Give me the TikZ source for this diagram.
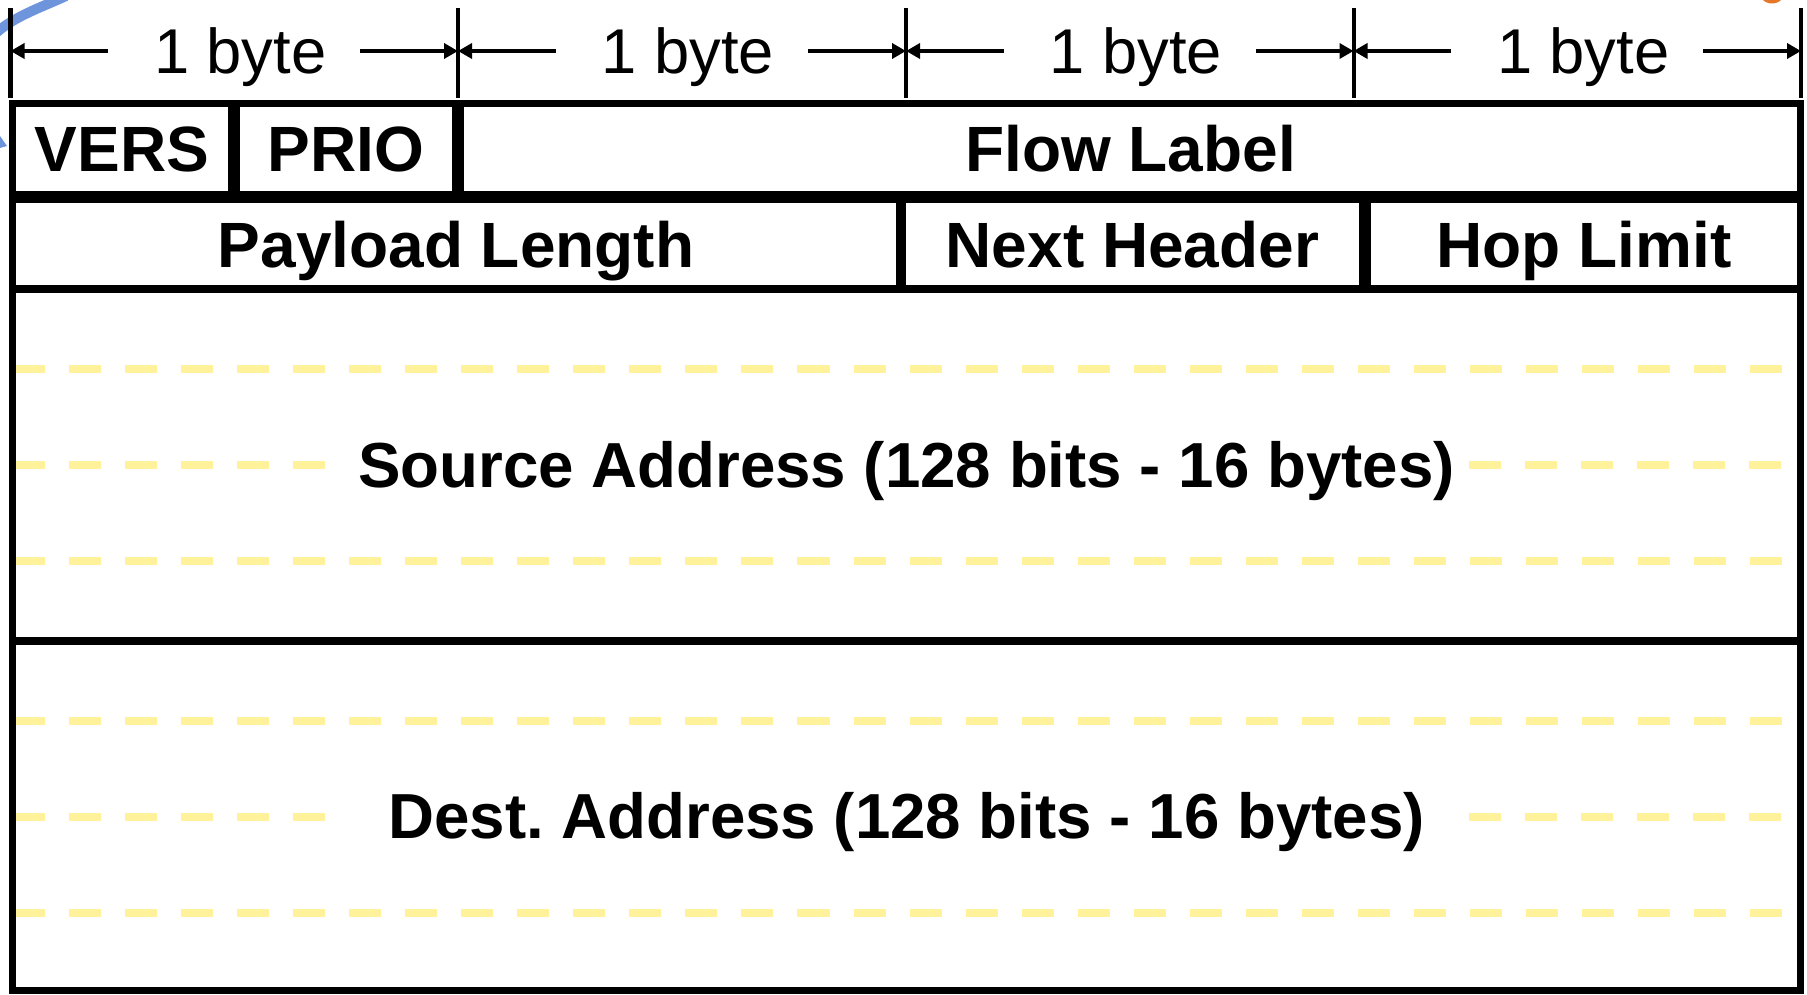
\documentclass[tikz,border=0pt]{standalone}
\usepackage{fontspec}
\setmainfont{Liberation Sans}
\usetikzlibrary{arrows.meta}
\definecolor{ruleyellow}{RGB}{255,242,155}
\definecolor{penblue}{RGB}{110,148,220}
\definecolor{penorange}{RGB}{230,118,40}
\frenchspacing
\begin{document}
\begin{tikzpicture}[x=0.01cm, y=-0.01cm,
  field/.style={draw, line width=0.07cm, rectangle, inner sep=0pt, outer sep=0pt,
    text height=13.03pt, text depth=0pt, font=\fontsize{18.2}{20}\selectfont\bfseries},
  bigfield/.style={field, text height=12.96pt, font=\fontsize{18.1}{20}\selectfont\bfseries},
  bytetick/.style={line width=0.04cm},
  dimarrow/.style={line width=0.045cm, -{Triangle[length=0.14cm, width=0.15cm]}},
  bytelbl/.style={inner sep=0pt, outer sep=0pt, minimum width=2.52cm,
    text height=12.9pt, text depth=0pt, font=\fontsize{18}{20}\selectfont},
  guide/.style={line width=0.08cm, ruleyellow, line cap=butt, dash pattern=on 0.32cm off 0.24cm}
]
\useasboundingbox (0,0) rectangle (1807,994);

% pen strokes at the edges
\draw[penblue, line width=0.1cm] (66,-4) .. controls (40,8) and (15,16) .. (-4,33);
\fill[penblue] (0,136) -- (7,146) -- (0,148) -- cycle;
\fill[penorange] (1762,-1) .. controls (1767,5) and (1777,5) .. (1782,-1) -- cycle;

% byte ruler
\coordinate (t0) at (10.5,8);
\coordinate (t1) at (458,8);
\coordinate (t2) at (906,8);
\coordinate (t3) at (1353.5,8);
\coordinate (t4) at (1801,8);
\foreach \t in {t0,t1,t2,t3,t4} \draw[bytetick] (\t) -- ++(0,90);

\node[bytelbl] (b1) at (234.25,51) {\hspace*{0.12cm}1 byte};
\node[bytelbl] (b2) at (682,51) {\hspace*{0.12cm}1 byte};
\node[bytelbl] (b3) at (1129.75,51) {\hspace*{0.12cm}1 byte};
\node[bytelbl] (b4) at (1577.25,51) {\hspace*{0.12cm}1 byte};

\draw[dimarrow] (b1.west) -- (b1.west -| t0);
\draw[dimarrow] (b1.east) -- (b1.east -| t1);
\draw[dimarrow] (b2.west) -- (b2.west -| t1);
\draw[dimarrow] (b2.east) -- (b2.east -| t2);
\draw[dimarrow] (b3.west) -- (b3.west -| t2);
\draw[dimarrow] (b3.east) -- (b3.east -| t3);
\draw[dimarrow] (b4.west) -- (b4.west -| t3);
\draw[dimarrow] (b4.east) -- (b4.east -| t4);

% address guide lines
\draw[guide] (13,369) -- (1782,369);
\draw[guide] (13,465) -- (326,465);
\draw[guide] (1469,465) -- (1782,465);
\draw[guide] (13,561) -- (1782,561);
\draw[guide] (13,721) -- (1782,721);
\draw[guide] (13,817) -- (326,817);
\draw[guide] (1469,817) -- (1782,817);
\draw[guide] (13,913) -- (1782,913);

% header fields
\node[field, minimum width=2.18cm, minimum height=0.90cm] (vers) at (122,149) {VERS};
\node[field, minimum width=2.18cm, minimum height=0.90cm] (prio) at (346,149) {PRIO};
\node[field, minimum width=13.39cm, minimum height=0.90cm] (flow) at (1130.5,149) {Flow Label};
\node[field, minimum width=8.86cm, minimum height=0.89cm] (plen) at (456,244.5) {Payload Length};
\node[field, minimum width=4.59cm, minimum height=0.89cm] (nhdr) at (1132.5,244.5) {Next Header};
\node[field, minimum width=4.32cm, minimum height=0.89cm] (hop) at (1584,244.5) {Hop Limit};
\node[bigfield, minimum width=17.87cm, minimum height=3.52cm] (src) at (906.5,465) {Source Address (128 bits - 16 bytes)};
\node[bigfield, minimum width=17.87cm, minimum height=3.49cm] (dst) at (906.5,815.5) {Dest. Address (128 bits - 16 bytes)};
\end{tikzpicture}
\end{document}
